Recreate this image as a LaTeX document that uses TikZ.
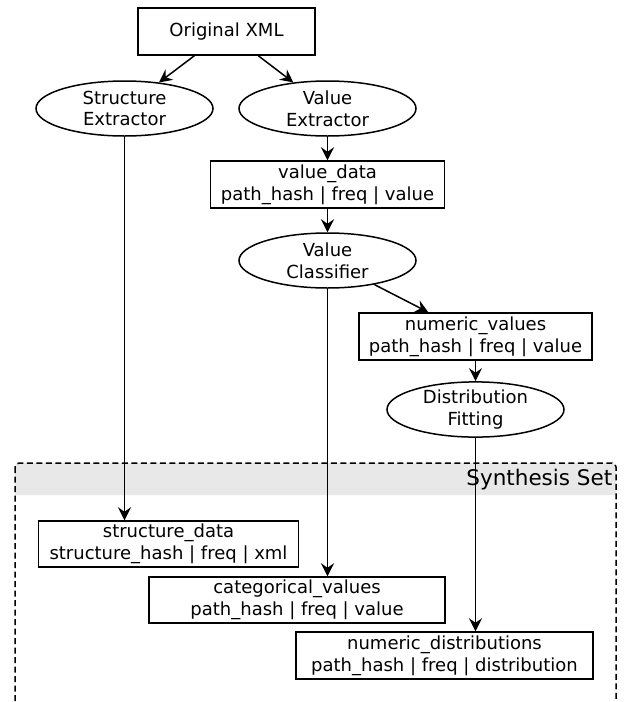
\documentclass[tikz,border=0pt]{standalone}
\usepackage{fontspec}
\setmainfont{DejaVu Sans}
\usetikzlibrary{arrows.meta,shapes.geometric}

\begin{document}
\begin{tikzpicture}[x=1pt,y=-1pt,line width=1.5pt,
    font=\fontsize{18}{21.6}\selectfont,
    box/.style={draw,rectangle,align=center,inner sep=0pt,minimum height=47pt},
    proc/.style={draw,ellipse,align=center,inner sep=0pt,minimum width=177pt,minimum height=55pt},
    flow/.style={-{Stealth[length=13pt,width=13pt,inset=4.5pt]}}]
  \useasboundingbox (0,0) rectangle (628,702);

  \fill[black!9] (15,495) [rounded corners=4pt] -- (15,463) -- (616,463) [sharp corners] -- (616,495) -- cycle;
  \draw[dash pattern=on 6pt off 3.5pt,rounded corners=4pt] (15,463) rectangle (616,707);
  \node[font=\fontsize{21.5}{26}\selectfont,anchor=east,inner sep=0pt] (synth) at (613,480) {Synthesis Set};

  \node[box,minimum width=177pt] (orig) at (226.5,31.5) {Original XML};
  \node[proc] (sext) at (124.5,108.5) {Structure\\Extractor};
  \node[proc] (vext) at (327.5,108.5) {Value\\Extractor};
  \node[box,minimum width=234pt] (vdata) at (327.5,184.5) {value\_data\\path\_hash | freq | value};
  \node[proc] (vcls) at (327.5,260.5) {Value\\Classifier};
  \node[box,minimum width=233pt] (nvals) at (475.5,336.5) {numeric\_values\\path\_hash | freq | value};
  \node[proc] (dfit) at (475.5,409.5) {Distribution\\Fitting};
  \node[box,minimum width=260pt,minimum height=46pt] (sdata) at (168.5,544) {structure\_data\\structure\_hash | freq | xml};
  \node[box,minimum width=296pt,minimum height=46pt] (cvals) at (297,600) {categorical\_values\\path\_hash | freq | value};
  \node[box,minimum width=297pt] (ndist) at (444.5,655.5) {numeric\_distributions\\path\_hash | freq | distribution};

  \draw[flow] (orig) -- (sext);
  \draw[flow] (orig) -- (vext);
  \draw[flow] (vext) -- (vdata);
  \draw[flow] (vdata) -- (vcls);
  \draw[flow] (vcls) -- (nvals);
  \draw[flow] (nvals) -- (dfit);
  \draw[flow] (sext) -- (sext |- sdata.north);
  \draw[flow] (vcls) -- (vcls |- cvals.north);
  \draw[flow] (dfit) -- (dfit |- ndist.north);
\end{tikzpicture}
\end{document}
